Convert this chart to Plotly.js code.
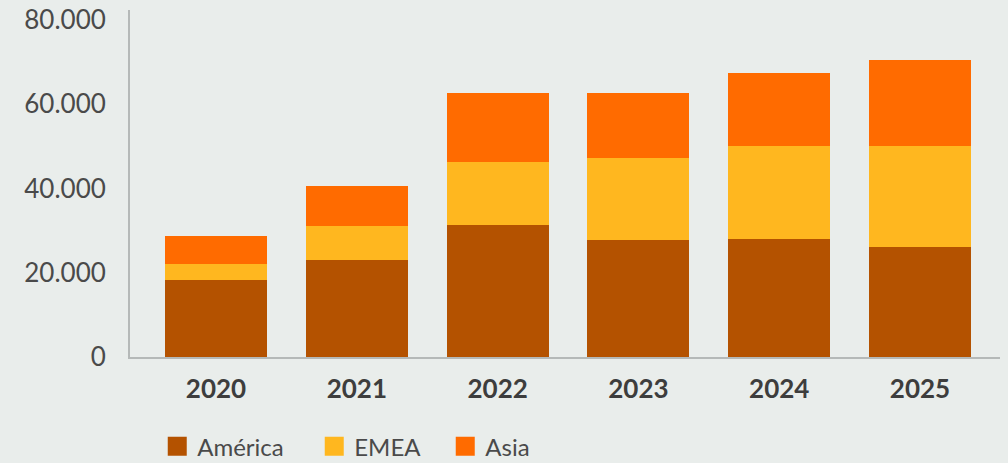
<!DOCTYPE html>
<html>
<head>
<meta charset="utf-8">
<script src="https://cdn.plot.ly/plotly-3.0.1.min.js"></script>
<style>
html,body{margin:0;padding:0;background:#e9edeb;}
#chart{width:1008px;height:463px;}
</style>
</head>
<body>
<div id="chart"></div>
<script>
const years = ['2020', '2021', '2022', '2023', '2024', '2025'];
const america = [18300, 23000, 31400, 27800, 28000, 26100];
const emea = [3800, 8100, 14900, 19400, 22100, 24000];
const asia = [6600, 9500, 16400, 15400, 17300, 20400];
const seriesNames = ['América', 'EMEA', 'Asia'];
const seriesColors = ['#b45200', '#ffb71f', '#ff6b00'];
const yTicks = [0, 20000, 40000, 60000, 80000];
const yTickText = ['0', '20.000', '40.000', '60.000', '80.000'];

const values = [america, emea, asia];
const legendWidths = [112, 86, 60];
const traces = values.map((v, i) => ({
  type: 'bar',
  x: years,
  y: v,
  name: seriesNames[i],
  marker: {color: seriesColors[i]},
  legendwidth: legendWidths[i],
  hoverinfo: 'x+y+name'
}));

const layout = {
  width: 1008,
  height: 463,
  barmode: 'stack',
  bargap: 0.2756,
  paper_bgcolor: '#e9edeb',
  plot_bgcolor: '#e9edeb',
  margin: {l: 130, r: 8, t: 10, b: 106, pad: 0, autoexpand: false},
  font: {family: 'Lato, sans-serif', color: '#444444', size: 26},
  xaxis: {
    type: 'category',
    range: [-0.611, 5.568],
    showline: true,
    linecolor: '#b5b9b8',
    linewidth: 2,
    ticks: '',
    showgrid: false,
    zeroline: false,
    automargin: false,
    tickfont: {family: 'Lato, sans-serif', size: 26, color: '#3d3d3d', weight: 'bold'},
    ticklabelstandoff: 8
  },
  yaxis: {
    range: [0, 82400],
    showline: true,
    linecolor: '#b5b9b8',
    linewidth: 2,
    ticks: '',
    showgrid: false,
    zeroline: false,
    automargin: false,
    tickvals: yTicks,
    ticktext: yTickText,
    tickfont: {family: 'Lato, sans-serif', size: 26, color: '#4a4a4a'},
    ticklabelstandoff: 17
  },
  showlegend: true,
  legend: {
    orientation: 'h',
    xref: 'container',
    yref: 'container',
    x: 0.156,
    xanchor: 'left',
    y: 0.084,
    yanchor: 'top',
    font: {family: 'Lato, sans-serif', size: 24, color: '#4a4a4a'},
    bgcolor: 'rgba(0,0,0,0)',
    traceorder: 'normal'
  }
};

Plotly.newPlot('chart', traces, layout, {displayModeBar: false, staticPlot: true}).then(() => {
  document.querySelectorAll('.legendpoints path').forEach(p => {
    p.setAttribute('d', 'M9.5,9.5H-9.5V-9.5H9.5Z');
  });
});
</script>
</body>
</html>
